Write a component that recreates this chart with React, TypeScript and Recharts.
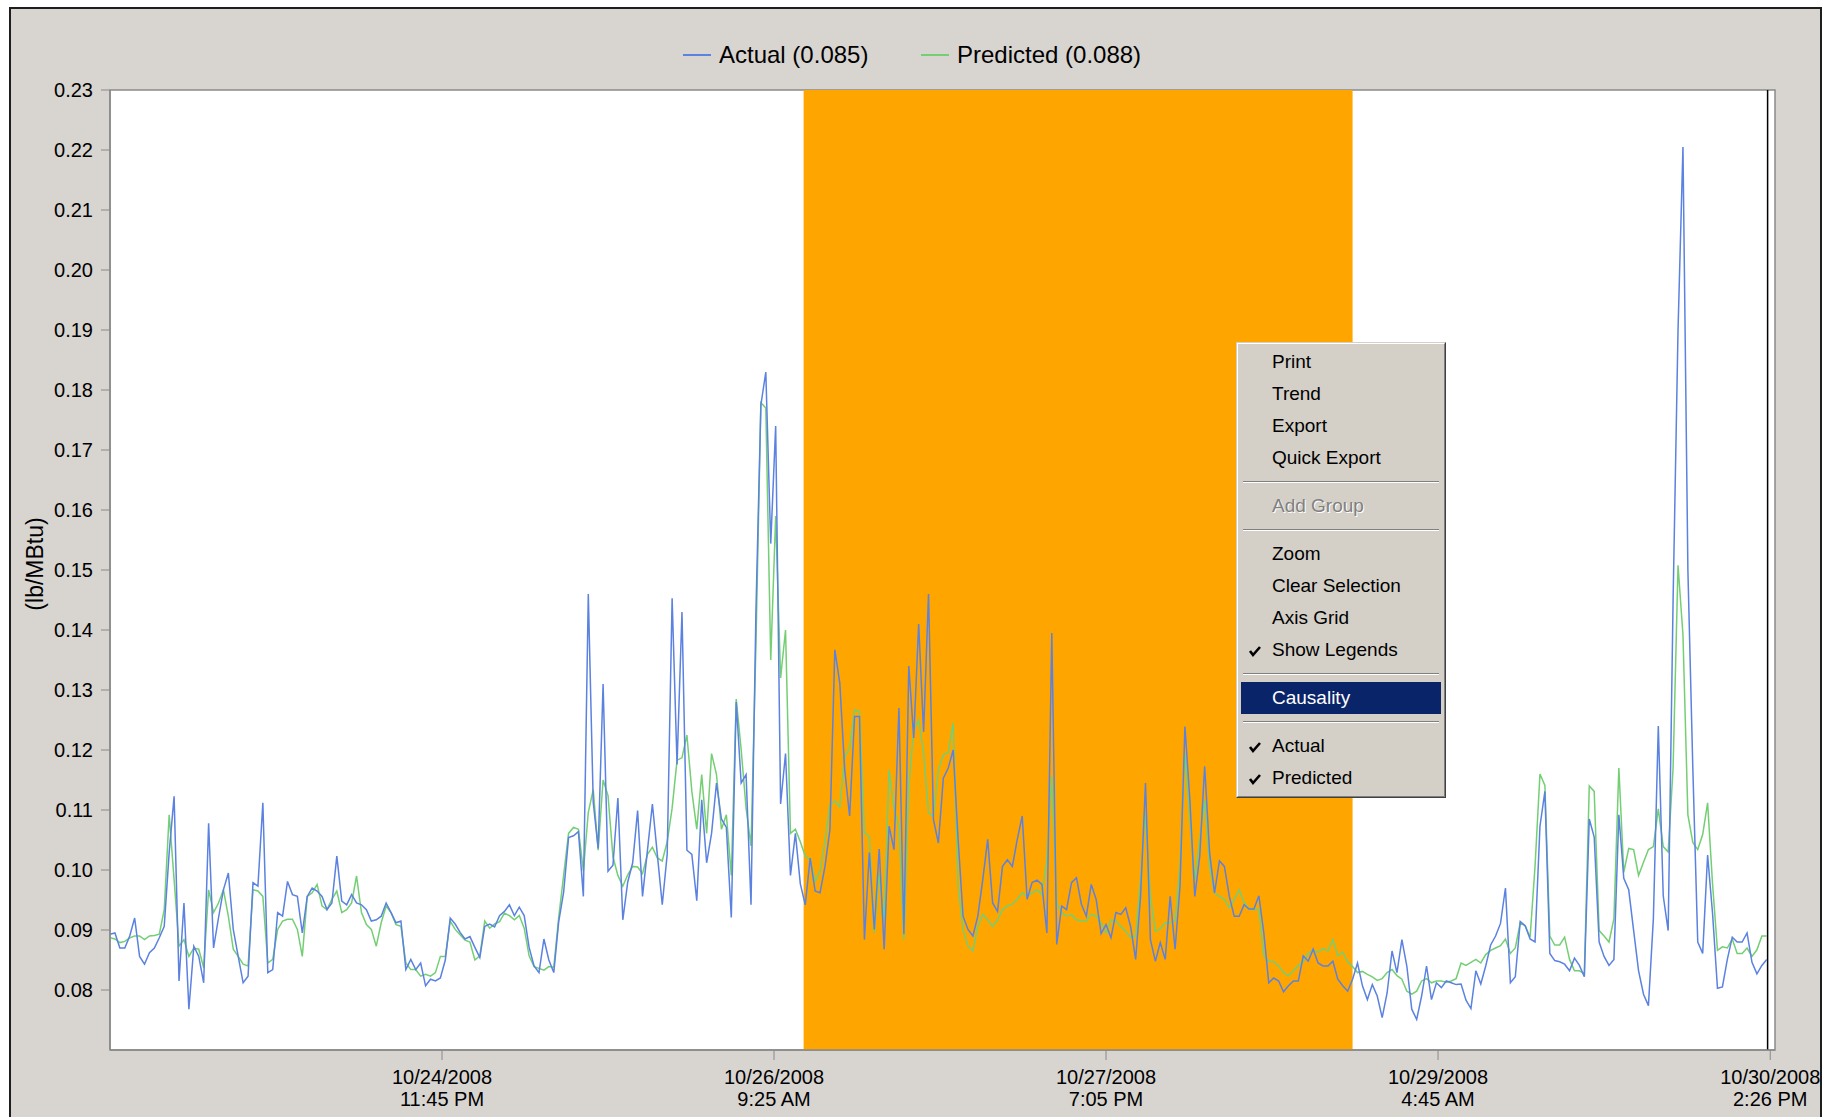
import React from 'react';
import {
  LineChart,
  Line,
  XAxis,
  YAxis,
  ReferenceArea,
  ReferenceLine,
} from 'recharts';

const FONT = '"Liberation Sans", Arial, sans-serif';

// readings every 30 minutes starting 10/23/2008 2:05 PM
const SAMPLE_MINUTES = 30;

const actual = [
  0.0893, 0.0895, 0.0870, 0.0870, 0.0890, 0.0920, 0.0856, 0.0843, 0.0862, 0.0870,
  0.0887, 0.0906, 0.1029, 0.1123, 0.0815, 0.0945, 0.0768, 0.0873, 0.0856, 0.0812,
  0.1078, 0.0870, 0.0920, 0.0967, 0.0995, 0.0901, 0.0856, 0.0812, 0.0823, 0.0979,
  0.0973, 0.1112, 0.0829, 0.0834, 0.0929, 0.0923, 0.0981, 0.0959, 0.0956, 0.0895,
  0.0956, 0.0970, 0.0965, 0.0956, 0.0934, 0.0945, 0.1023, 0.0948, 0.0942, 0.0959,
  0.0945, 0.0942, 0.0934, 0.0915, 0.0917, 0.0923, 0.0945, 0.0929, 0.0912, 0.0915,
  0.0834, 0.0851, 0.0834, 0.0845, 0.0807, 0.0818, 0.0815, 0.0820, 0.0850, 0.0920,
  0.0910, 0.0896, 0.0885, 0.0889, 0.0871, 0.0854, 0.0906, 0.0910, 0.0905, 0.0924,
  0.0931, 0.0942, 0.0924, 0.0938, 0.0924, 0.0871, 0.0840, 0.0829, 0.0885, 0.0850,
  0.0829, 0.0914, 0.0963, 0.1054, 0.1057, 0.1064, 0.0956, 0.1460, 0.1113, 0.1036,
  0.1310, 0.0998, 0.1008, 0.1120, 0.0917, 0.0980, 0.1012, 0.1099, 0.0956, 0.1033,
  0.1110, 0.1026, 0.0942, 0.1026, 0.1453, 0.1176, 0.1430, 0.1033, 0.1026, 0.0949,
  0.1117, 0.1012, 0.1061, 0.1145, 0.1085, 0.1071, 0.0921, 0.1280, 0.1145, 0.1159,
  0.0942, 0.1432, 0.1775, 0.1830, 0.1544, 0.1740, 0.1110, 0.1194, 0.0991, 0.1061,
  0.0977, 0.0942, 0.1020, 0.0965, 0.0962, 0.1006, 0.1067, 0.1367, 0.1312, 0.1167,
  0.1090, 0.1256, 0.1256, 0.0884, 0.1029, 0.0901, 0.1035, 0.0868, 0.1073, 0.1034,
  0.1270, 0.0893, 0.1340, 0.1220, 0.1410, 0.1230, 0.1460, 0.1084, 0.1045, 0.1153,
  0.1170, 0.1200, 0.1051, 0.0923, 0.0901, 0.0890, 0.0923, 0.0984, 0.1051, 0.0945,
  0.0931, 0.1006, 0.1017, 0.1006, 0.1051, 0.1090, 0.0951, 0.0979, 0.0983, 0.0976,
  0.0895, 0.1395, 0.0876, 0.0940, 0.0934, 0.0979, 0.0987, 0.0943, 0.0923, 0.0976,
  0.0951, 0.0894, 0.0909, 0.0887, 0.0929, 0.0926, 0.0937, 0.0905, 0.0851, 0.0956,
  0.1145, 0.0884, 0.0848, 0.0879, 0.0851, 0.0956, 0.0868, 0.0973, 0.1239, 0.1117,
  0.0956, 0.1023, 0.1173, 0.1029, 0.0962, 0.1015, 0.1006, 0.0956, 0.0923, 0.0923,
  0.0942, 0.0935, 0.0935, 0.0957, 0.0895, 0.0812, 0.0820, 0.0815, 0.0797, 0.0807,
  0.0815, 0.0815, 0.0857, 0.0848, 0.0868, 0.0845, 0.0840, 0.0840, 0.0848, 0.0818,
  0.0807, 0.0798, 0.0818, 0.0845, 0.0807, 0.0784, 0.0809, 0.0790, 0.0754, 0.0795,
  0.0865, 0.0829, 0.0884, 0.0840, 0.0768, 0.0751, 0.0790, 0.0840, 0.0784, 0.0812,
  0.0804, 0.0815, 0.0812, 0.0809, 0.0810, 0.0783, 0.0769, 0.0832, 0.0810, 0.0840,
  0.0875, 0.0890, 0.0911, 0.0970, 0.0812, 0.0822, 0.0914, 0.0907, 0.0885, 0.0880,
  0.1073, 0.1131, 0.0861, 0.0849, 0.0847, 0.0843, 0.0832, 0.0853, 0.0841, 0.0822,
  0.1085, 0.1055, 0.0880, 0.0856, 0.0841, 0.0851, 0.1092, 0.0986, 0.0967, 0.0899,
  0.0832, 0.0793, 0.0774, 0.0919, 0.1240, 0.0957, 0.0899, 0.1450, 0.1900, 0.2205,
  0.1500, 0.1170, 0.0880, 0.0861, 0.1025, 0.0928, 0.0803, 0.0805, 0.0851, 0.0888,
  0.0880, 0.0880, 0.0895, 0.0846, 0.0827, 0.0841, 0.0851,
];

const predicted = [
  0.0887, 0.0885, 0.0879, 0.0881, 0.0887, 0.0890, 0.0890, 0.0884, 0.0890, 0.0891,
  0.0893, 0.0934, 0.1092, 0.0984, 0.0873, 0.0884, 0.0856, 0.0870, 0.0868, 0.0837,
  0.0967, 0.0929, 0.0945, 0.0967, 0.0923, 0.0868, 0.0856, 0.0843, 0.0840, 0.0967,
  0.0965, 0.0956, 0.0845, 0.0851, 0.0901, 0.0915, 0.0918, 0.0918, 0.0901, 0.0856,
  0.0956, 0.0962, 0.0976, 0.0940, 0.0934, 0.0951, 0.0965, 0.0929, 0.0934, 0.0945,
  0.0990, 0.0929, 0.0909, 0.0901, 0.0873, 0.0912, 0.0940, 0.0929, 0.0909, 0.0906,
  0.0845, 0.0834, 0.0834, 0.0823, 0.0826, 0.0823, 0.0829, 0.0856, 0.0856, 0.0915,
  0.0901, 0.0892, 0.0883, 0.0880, 0.0850, 0.0857, 0.0915, 0.0903, 0.0910, 0.0914,
  0.0928, 0.0924, 0.0917, 0.0924, 0.0903, 0.0857, 0.0839, 0.0836, 0.0833, 0.0839,
  0.0838, 0.0921, 0.0991, 0.1061, 0.1071, 0.1068, 0.0998, 0.1096, 0.1134, 0.1033,
  0.1150, 0.1124, 0.1022, 0.0991, 0.0973, 0.0992, 0.1006, 0.1005, 0.0994, 0.1026,
  0.1038, 0.1020, 0.1015, 0.1047, 0.1103, 0.1183, 0.1187, 0.1225, 0.1131, 0.1068,
  0.1159, 0.1061, 0.1194, 0.1159, 0.1068, 0.1092, 0.0991, 0.1285, 0.1201, 0.1103,
  0.1040, 0.1376, 0.1779, 0.1770, 0.1350, 0.1590, 0.1320, 0.1400, 0.1061, 0.1068,
  0.1047, 0.1023, 0.1017, 0.0981, 0.0998, 0.1048, 0.1109, 0.1115, 0.1105, 0.1189,
  0.1203, 0.1267, 0.1264, 0.1062, 0.1056, 0.0895, 0.0995, 0.0918, 0.1167, 0.1103,
  0.1073, 0.0884, 0.1140, 0.1234, 0.1250, 0.1195, 0.1095, 0.1090, 0.1167, 0.1192,
  0.1196, 0.1245, 0.0973, 0.0901, 0.0873, 0.0865, 0.0906, 0.0926, 0.0917, 0.0906,
  0.0917, 0.0934, 0.0940, 0.0943, 0.0951, 0.0962, 0.0956, 0.0962, 0.0967, 0.0959,
  0.1017, 0.1156, 0.0945, 0.0929, 0.0923, 0.0926, 0.0917, 0.0915, 0.0915, 0.0926,
  0.0923, 0.0912, 0.0895, 0.0917, 0.0915, 0.0906, 0.0898, 0.0887, 0.0890, 0.0984,
  0.1095, 0.0956, 0.0898, 0.0902, 0.0912, 0.0912, 0.0915, 0.1006, 0.1195, 0.1084,
  0.0984, 0.1051, 0.1117, 0.1006, 0.0962, 0.0956, 0.0951, 0.0937, 0.0951, 0.0967,
  0.0946, 0.0935, 0.0934, 0.0934, 0.0857, 0.0848, 0.0847, 0.0840, 0.0829, 0.0824,
  0.0832, 0.0841, 0.0847, 0.0862, 0.0865, 0.0863, 0.0869, 0.0865, 0.0884, 0.0857,
  0.0863, 0.0847, 0.0839, 0.0829, 0.0831, 0.0826, 0.0822, 0.0816, 0.0819, 0.0829,
  0.0834, 0.0824, 0.0818, 0.0798, 0.0793, 0.0798, 0.0815, 0.0819, 0.0812, 0.0815,
  0.0815, 0.0813, 0.0815, 0.0819, 0.0845, 0.0841, 0.0846, 0.0851, 0.0845, 0.0859,
  0.0866, 0.0870, 0.0874, 0.0885, 0.0861, 0.0870, 0.0912, 0.0907, 0.0888, 0.1006,
  0.1160, 0.1141, 0.0890, 0.0875, 0.0875, 0.0888, 0.0851, 0.0832, 0.0832, 0.0827,
  0.1140, 0.1131, 0.0899, 0.0890, 0.0880, 0.0919, 0.1170, 0.0996, 0.1036, 0.1034,
  0.0991, 0.1013, 0.1034, 0.1039, 0.1102, 0.1039, 0.1030, 0.1170, 0.1508, 0.1392,
  0.1092, 0.1046, 0.1034, 0.1059, 0.1112, 0.0977, 0.0866, 0.0872, 0.0870, 0.0885,
  0.0861, 0.0861, 0.0870, 0.0856, 0.0867, 0.0890, 0.0890,
];

// x ticks, in minutes from the first reading
const tickMinutes = [2020, 4040, 6060, 8080, 10101];
const tickDates = ['10/24/2008', '10/26/2008', '10/27/2008', '10/29/2008', '10/30/2008'];
const tickTimes = ['11:45 PM', '9:25 AM', '7:05 PM', '4:45 AM', '2:26 PM'];

const yTicks = [0.08, 0.09, 0.1, 0.11, 0.12, 0.13, 0.14, 0.15, 0.16, 0.17, 0.18, 0.19, 0.2, 0.21, 0.22, 0.23];

// selected time window (minutes)
const selectionStart = 4220;
const selectionEnd = 7560;
const lastReading = 10085;
const xMax = 10130;

const series = [
  { key: 'actual', name: 'Actual', avg: '0.085', color: '#5b82e0' },
  { key: 'predicted', name: 'Predicted', avg: '0.088', color: '#74cf74' },
];

const menuItems = [
  { label: 'Print' },
  { label: 'Trend' },
  { label: 'Export' },
  { label: 'Quick Export' },
  { sep: true },
  { label: 'Add Group', disabled: true },
  { sep: true },
  { label: 'Zoom' },
  { label: 'Clear Selection' },
  { label: 'Axis Grid' },
  { label: 'Show Legends', checked: true },
  { sep: true },
  { label: 'Causality', active: true },
  { sep: true },
  { label: 'Actual', checked: true },
  { label: 'Predicted', checked: true },
];

const rows = actual.map((v, i) => ({
  t: i * SAMPLE_MINUTES,
  actual: v,
  predicted: predicted[i],
}));

const DateTick = (props: any) => {
  const { x, y, payload } = props;
  const i = tickMinutes.indexOf(payload.value);
  return (
    <text x={x} y={y} textAnchor="middle" fill="#000" fontSize={20} fontFamily={FONT}>
      <tspan x={x} dy={22}>{tickDates[i]}</tspan>
      <tspan x={x} dy={22}>{tickTimes[i]}</tspan>
    </text>
  );
};

const UnitLabel = () => (
  <text
    x={35}
    y={564}
    transform="rotate(-90 35 564)"
    textAnchor="middle"
    dominantBaseline="central"
    fontSize={23}
    fontFamily={FONT}
    fill="#000"
  >
    (lb/MBtu)
  </text>
);

const Check = () => (
  <svg width={14} height={14} style={{ position: 'absolute', left: 7, top: 10 }}>
    <polyline points="2,7 5,11 12,3" fill="none" stroke="#000" strokeWidth={2.6} />
  </svg>
);

function ContextMenu() {
  return (
    <div
      style={{
        position: 'absolute',
        left: 1236,
        top: 342,
        width: 210,
        boxSizing: 'border-box',
        borderTop: '1px solid #d4d0c8',
        borderLeft: '1px solid #d4d0c8',
        borderRight: '1px solid #404040',
        borderBottom: '1px solid #404040',
        background: '#d4d0c8',
        fontFamily: FONT,
        fontSize: 19,
      }}
    >
      <div
        style={{
          borderTop: '1px solid #fff',
          borderLeft: '1px solid #fff',
          borderRight: '1px solid #808080',
          borderBottom: '1px solid #808080',
          padding: '2px 3px',
        }}
      >
        {menuItems.map((item, i) =>
          item.sep ? (
            <div
              key={i}
              style={{ height: 16, display: 'flex', alignItems: 'center', padding: '0 2px' }}
            >
              <div style={{ flex: 1, borderTop: '1px solid #808080', borderBottom: '1px solid #fff' }} />
            </div>
          ) : (
            <div
              key={i}
              style={{
                position: 'relative',
                height: 32,
                lineHeight: '32px',
                paddingLeft: 31,
                background: item.active ? '#0a246a' : 'transparent',
                color: item.active ? '#fff' : item.disabled ? '#808080' : '#000',
                textShadow: item.disabled ? '1px 1px 0 #fff' : 'none',
                whiteSpace: 'nowrap',
              }}
            >
              {item.checked && <Check />}
              {item.label}
            </div>
          )
        )}
      </div>
    </div>
  );
}

function Legend() {
  const lefts = [683, 921];
  return (
    <>
      {series.map((s, i) => (
        <div
          key={s.key}
          style={{
            position: 'absolute',
            left: lefts[i],
            top: 40,
            height: 30,
            display: 'flex',
            alignItems: 'center',
            fontFamily: FONT,
            fontSize: 24,
            color: '#000',
            whiteSpace: 'nowrap',
          }}
        >
          <span style={{ width: 28, height: 2, background: s.color, marginRight: 8 }} />
          {`${s.name} (${s.avg})`}
        </div>
      ))}
    </>
  );
}

export default function App() {
  return (
    <div
      style={{
        position: 'absolute',
        left: 0,
        top: 0,
        width: 1825,
        height: 1117,
        overflow: 'hidden',
        background: '#fff',
      }}
    >
      <div
        style={{
          position: 'absolute',
          left: 9,
          top: 7,
          width: 1813,
          height: 1130,
          boxSizing: 'border-box',
          border: '2px solid #1e1e1e',
          background: '#d8d4d0',
        }}
      />
      <div style={{ position: 'absolute', left: 0, top: 0 }}>
        <LineChart
          width={1825}
          height={1117}
          data={rows}
          margin={{ top: 90, right: 50, bottom: 0, left: 10 }}
        >
          <XAxis
            dataKey="t"
            type="number"
            domain={[0, xMax]}
            ticks={tickMinutes}
            interval={0}
            height={67}
            tickSize={10}
            tick={<DateTick />}
            axisLine={{ stroke: '#8a8a8a', strokeWidth: 1.5 }}
            tickLine={{ stroke: '#8a8a8a' }}
          />
          <YAxis
            type="number"
            domain={[0.07, 0.23]}
            ticks={yTicks}
            interval={0}
            width={100}
            tickSize={9}
            tickMargin={8}
            tickFormatter={(v: number) => v.toFixed(2)}
            tick={{ fill: '#000', fontSize: 20, fontFamily: FONT }}
            axisLine={{ stroke: '#8a8a8a', strokeWidth: 1.5 }}
            tickLine={{ stroke: '#8a8a8a' }}
            label={<UnitLabel />}
          />
          {/* plot background */}
          <ReferenceArea
            x1={0}
            x2={xMax}
            y1={0.07}
            y2={0.23}
            fill="#fff"
            fillOpacity={1}
            stroke="#8a8a8a"
            strokeWidth={1.5}
          />
          {/* highlighted selection */}
          <ReferenceArea
            x1={selectionStart}
            x2={selectionEnd}
            y1={0.07}
            y2={0.23}
            fill="#ffa500"
            fillOpacity={1}
            stroke="none"
          />
          <ReferenceLine x={lastReading} stroke="#000" strokeWidth={1.5} />
          <Line
            type="linear"
            dataKey="predicted"
            stroke={series[1].color}
            strokeWidth={1.5}
            dot={false}
            isAnimationActive={false}
          />
          <Line
            type="linear"
            dataKey="actual"
            stroke={series[0].color}
            strokeWidth={1.5}
            dot={false}
            isAnimationActive={false}
          />
        </LineChart>
      </div>
      <Legend />
      <ContextMenu />
    </div>
  );
}
